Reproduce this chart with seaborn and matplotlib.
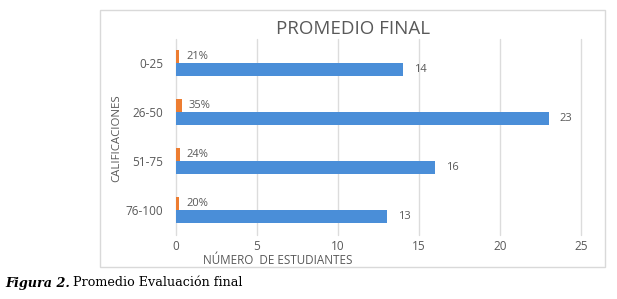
import pandas as pd
import seaborn as sns
import matplotlib.pyplot as plt
from matplotlib.patches import Rectangle

# data
rangos = ["0-25", "26-50", "51-75", "76-100"]
porcentaje = [0.21, 0.35, 0.24, 0.20]
estudiantes = [14, 23, 16, 13]
xticks = [0, 5, 10, 15, 20, 25]

df = pd.DataFrame({
    "rango": rangos * 2,
    "serie": ["porcentaje"] * 4 + ["estudiantes"] * 4,
    "valor": porcentaje + estudiantes,
})

sns.set_theme(style="white")
plt.rcParams["font.family"] = ["Open Sans", "DejaVu Sans"]
grey = "#595959"

fig = plt.figure(figsize=(6.17, 2.99), dpi=100)
W, H = 617, 299

# outer chart frame
fig.patches.append(Rectangle((100 / W, 1 - 267 / H), 505 / W, 257 / H,
                             transform=fig.transFigure, fill=False,
                             edgecolor="#d9d9d9", linewidth=1))

ax = fig.add_axes([176 / W, 1 - 234.5 / H, 405 / W, 196 / H])
sns.barplot(data=df, y="rango", x="valor", hue="serie",
            hue_order=["porcentaje", "estudiantes"], order=rangos,
            palette=["#ED7D31", "#4A8ED8"], saturation=1, orient="h",
            width=0.52, linewidth=0, ax=ax, legend=False)

ax.set_xlim(0, 25)
ax.set_xticks(xticks)
ax.grid(axis="x", color="#dcdcdc", linewidth=1)
for gl in ax.get_xgridlines():
    gl.set_clip_on(False)
ax.set_axisbelow(True)
for s in ax.spines.values():
    s.set_visible(False)
ax.tick_params(axis="both", length=0, colors=grey, labelsize=8.5)
ax.tick_params(axis="y", pad=9)
ax.tick_params(axis="x", pad=4)
ax.set_xlabel("")
ax.set_ylabel("")

# data labels
c_pct, c_est = ax.containers[0], ax.containers[1]
ax.bar_label(c_pct, labels=[f"{v:.0%}" for v in porcentaje], padding=5,
             fontsize=8, color=grey)
ax.bar_label(c_est, labels=[str(v) for v in estudiantes], padding=8,
             fontsize=8, color=grey)

fig.text(353 / W, 1 - 29 / H, "PROMEDIO FINAL", ha="center", va="center",
         fontsize=13.5, color=grey)
fig.text(278 / W, 1 - 260.5 / H, "NÚMERO  DE ESTUDIANTES", ha="center",
         va="center", fontsize=8.4, color=grey)
fig.text(117 / W, 1 - 138 / H, "CALIFICACIONES", ha="center", va="center",
         rotation=90, fontsize=8.2, color=grey)

# caption
t1 = fig.text(5 / W, 1 - 283 / H, "Figura 2.", ha="left", va="center",
              fontsize=9.2, fontweight="bold", fontstyle="italic",
              family="DejaVu Serif", color="black")
fig.canvas.draw()
bb = t1.get_window_extent()
fig.text((bb.x1 + 3) / W, 1 - 283 / H, "Promedio Evaluación final",
         ha="left", va="center", fontsize=9.2, family="DejaVu Serif",
         color="black")

fig.savefig("out.png", dpi=100)
